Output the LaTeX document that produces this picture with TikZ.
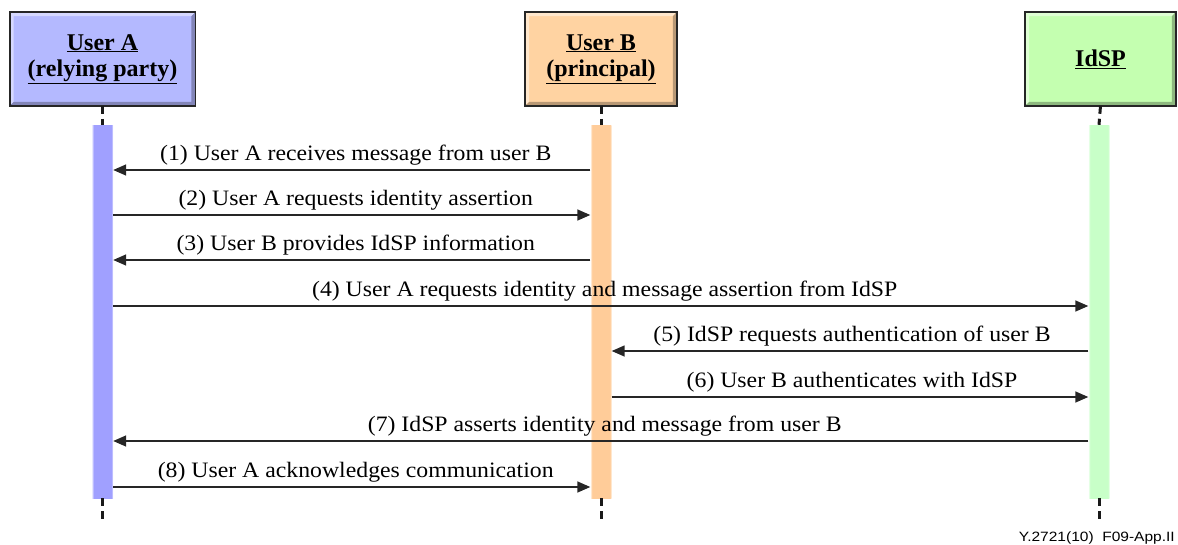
\documentclass[tikz,border=0pt]{standalone}
\usepackage{fontspec}
\setmainfont{Liberation Serif}
\newfontfamily\lblfont{Liberation Serif}[FakeStretch=1.08]
\newfontfamily\tagfont{Liberation Sans}[FakeStretch=1.15]
\usetikzlibrary{arrows.meta,calc}

\definecolor{aFill}{HTML}{B4B9FF}
\definecolor{aBar}{HTML}{A0A0FF}
\definecolor{bFill}{HTML}{FFD3A2}
\definecolor{bBar}{HTML}{FFCC99}
\definecolor{cFill}{HTML}{C4FFB0}
\definecolor{cBar}{HTML}{C8FFC8}

% activation bars: solid core, soft edges
\pgfdeclarehorizontalshading{shA}{100bp}{color(0bp)=(white); color(25bp)=(aBar!25); color(29bp)=(aBar); color(71bp)=(aBar); color(75bp)=(aBar!25); color(100bp)=(white)}
\pgfdeclarehorizontalshading{shB}{100bp}{color(0bp)=(white); color(25bp)=(bBar!25); color(29bp)=(bBar); color(71bp)=(bBar); color(75bp)=(bBar!25); color(100bp)=(white)}
\pgfdeclarehorizontalshading{shC}{100bp}{color(0bp)=(white); color(25bp)=(cBar!25); color(29bp)=(cBar); color(71bp)=(cBar); color(75bp)=(cBar!25); color(100bp)=(white)}

\tikzset{
  actor/.style={draw=black!85, line width=1.6pt, minimum width=184pt, minimum height=92pt,
    inner sep=0pt, align=center, font=\fontsize{24}{26.5}\selectfont\bfseries},
  actbar/.style={minimum width=21pt, minimum height=373pt, inner sep=0pt},
  life/.style={line width=3pt, black!90, dash pattern=on 8pt off 5pt},
  msg/.style={line width=1.5pt, black!85, -{Triangle[length=13pt,width=11pt]}},
  lbl/.style={anchor=base, inner sep=0pt, font=\lblfont\fontsize{22}{24}\selectfont}
}

% bevel on a header box
\newcommand\bevel[2]{%
  \fill[#2!55!white] (#1.south west) -- (#1.north west) -- (#1.north east)
     -- ($(#1.north east)+(-4,4)$) -- ($(#1.north west)+(4,4)$) -- ($(#1.south west)+(4,-4)$) -- cycle;
  \fill[#2!72!black] (#1.south west) -- (#1.south east) -- (#1.north east)
     -- ($(#1.north east)+(-4,4)$) -- ($(#1.south east)+(-4,-4)$) -- ($(#1.south west)+(4,-4)$) -- cycle;
  \draw[black!85, line width=1.6pt] (#1.south west) rectangle (#1.north east);
}

\begin{document}
\begin{tikzpicture}[x=1pt, y=-1pt]
\useasboundingbox (0,0) rectangle (1178,544);

% participants
\node[actor, fill=aFill] (hA) at (102.5,59) {};
\node[actor, fill=bFill, minimum width=150pt] (hB) at (601,59) {};
\node[actor, fill=cFill, minimum width=149pt] (hC) at (1100.5,59) {};
\bevel{hA}{aFill}
\bevel{hB}{bFill}
\bevel{hC}{cFill}
\node[actor, draw=none, fill=none] (nA) at (hA) {\underline{User A}\\\underline{(relying party)}};
\node[actor, draw=none, fill=none, minimum width=150pt] (nB) at (hB) {\underline{User B}\\\underline{(principal)}};
\node[actor, draw=none, fill=none, minimum width=149pt] (nC) at (hC) {\underline{IdSP}};

% activation bars
\node[actbar, shading=shA] (barA) at (102.5,311.5) {};
\node[actbar, shading=shB] (barB) at (601,311.5) {};
\node[actbar, shading=shC] (barC) at (1099,311.5) {};

% lifelines
\coordinate (endA) at (102.5,522);
\coordinate (endB) at (601,522);
\coordinate (endC) at (1099,522);
\draw[life] (hA.south) -- (barA.north);
\draw[life] (hB.south) -- (barB.north);
\draw[life] (hC.south) -- (barC.north);
\draw[life] (barA.south) -- (endA);
\draw[life] (barB.south) -- (endB);
\draw[life] (barC.south) -- (endC);

% message rows
\coordinate (r1) at (0,170);
\coordinate (r2) at (0,215);
\coordinate (r3) at (0,260);
\coordinate (r4) at (0,306);
\coordinate (r5) at (0,351);
\coordinate (r6) at (0,397);
\coordinate (r7) at (0,441);
\coordinate (r8) at (0,487);

\draw[msg] (barB.west |- r1) -- (barA.east |- r1);
\draw[msg] (barA.east |- r2) -- (barB.west |- r2);
\draw[msg] (barB.west |- r3) -- (barA.east |- r3);
\draw[msg] (barA.east |- r4) -- (barC.west |- r4);
\draw[msg] (barC.west |- r5) -- (barB.east |- r5);
\draw[msg] (barB.east |- r6) -- (barC.west |- r6);
\draw[msg] (barC.west |- r7) -- (barA.east |- r7);
\draw[msg] (barA.east |- r8) -- (barB.west |- r8);

% message labels
\node[lbl] (t1) at ($(barA.east |- r1)!0.5!(barB.west |- r1)+(4,-10)$) {(1) User A receives message from user B};
\node[lbl] (t2) at ($(barA.east |- r2)!0.5!(barB.west |- r2)+(4,-10)$) {(2) User A requests identity assertion};
\node[lbl] (t3) at ($(barA.east |- r3)!0.5!(barB.west |- r3)+(4,-10)$) {(3) User B provides IdSP information};
\node[lbl] (t4) at ($(barA.east |- r4)!0.5!(barC.west |- r4)+(4,-10)$) {(4) User A requests identity and message assertion from IdSP};
\node[lbl] (t5) at ($(barB.east |- r5)!0.5!(barC.west |- r5)+(2,-10)$) {(5) IdSP requests authentication of user B};
\node[lbl] (t6) at ($(barB.east |- r6)!0.5!(barC.west |- r6)+(2,-10)$) {(6) User B authenticates with IdSP};
\node[lbl] (t7) at ($(barA.east |- r7)!0.5!(barC.west |- r7)+(4,-10)$) {(7) IdSP asserts identity and message from user B};
\node[lbl] (t8) at ($(barA.east |- r8)!0.5!(barB.west |- r8)+(4,-10)$) {(8) User A acknowledges communication};

% figure tag
\node[anchor=base east, inner sep=0pt, font=\tagfont\fontsize{13.5}{15}\selectfont] (tag) at (1175,541) {Y.2721(10)\ \ F09-App.II};
\end{tikzpicture}
\end{document}
